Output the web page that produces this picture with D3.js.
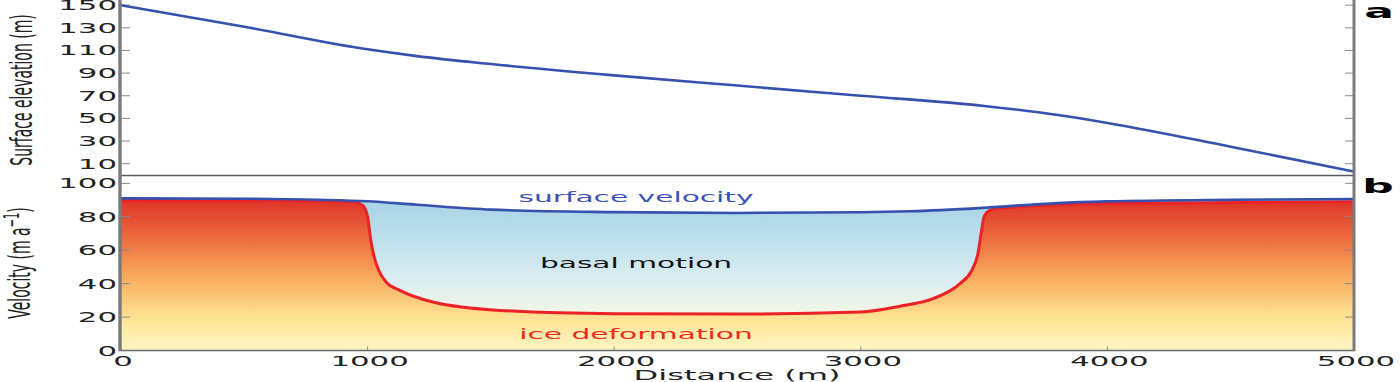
<!DOCTYPE html>
<html>
<head>
<meta charset="utf-8">
<script src="https://cdn.jsdelivr.net/npm/d3@7"></script>
<style>
  body { margin: 0; background: #fff; }
  svg { display: block; font-family: "DejaVu Sans", sans-serif; }
</style>
</head>
<body>
<svg id="chart" width="1400" height="382"></svg>
<script>
"use strict";

// panel a: surface elevation along the flowline
const elevDistance = [0, 500, 1000, 1200, 1500, 2000, 2500, 3000, 3500, 3800, 4000, 4500, 5000];
const elevValue    = [150, 131, 111, 105, 98, 88, 79, 70, 61, 53, 46, 25, 3];

// panel b: surface velocity
const surfDistance = [0, 500, 800, 1000, 1200, 1500, 2000, 2500, 3000, 3200, 3500, 3800, 4000, 4500, 5000];
const surfValue    = [91, 90.8, 90.2, 89.3, 87.2, 84.3, 82.8, 82.3, 82.7, 83.3, 85.4, 88.2, 89.2, 90.2, 90.6];

// panel b: ice deformation part
const defDistance = [0, 500, 900, 950, 980, 1000, 1012, 1025, 1045, 1075, 1131, 1265, 1537, 2000, 2500, 3000, 3159, 3293, 3402, 3450, 3475, 3488, 3500, 3525, 3570, 4000, 5000];
const defValue    = [89.8, 89.6, 89.3, 88.6, 86.8, 80, 67, 57, 48, 41, 36, 29, 24, 22, 21.8, 23, 26.5, 31, 40, 48, 58, 70, 80, 84, 85.3, 88, 89];

const xTicks = [0, 1000, 2000, 3000, 4000, 5000];
const elevTicks = [10, 30, 50, 70, 90, 110, 130, 150];
const velTicks = [0, 20, 40, 60, 80, 100];

const SX = 2.2; // the figure is stretched horizontally

let svg = d3.select('#chart');
let left = 121, right = 1354;

let x = d3.scaleLinear().domain([0, 5000]).range([left, right]);
let yA = d3.scaleLinear().domain([0, 155]).range([175, -0.5]);
let yB = d3.scaleLinear().domain([0, 105]).range([350.5, 175]);

function label(g, px, py, text, size, anchor, colour, weight) {
  return g.append('text')
    .attr('transform', `translate(${px},${py}) scale(${SX},1)`)
    .attr('text-anchor', anchor)
    .attr('font-size', size)
    .attr('font-weight', weight || 'normal')
    .attr('fill', colour)
    .text(text);
}

let defs = svg.append('defs');

// colour ramps follow the velocity value, not the curve
let redGrad = defs.append('linearGradient')
  .attr('id', 'redGrad').attr('gradientUnits', 'userSpaceOnUse')
  .attr('x1', 0).attr('x2', 0).attr('y1', yB(0)).attr('y2', yB(91));
[[0, '#fff6c2'], [0.22, '#fee293'], [0.44, '#f9b466'], [0.66, '#f17f48'], [0.88, '#e44b31'], [1, '#de3228']]
  .forEach(s => redGrad.append('stop').attr('offset', s[0]).attr('stop-color', s[1]));

let blueGrad = defs.append('linearGradient')
  .attr('id', 'blueGrad').attr('gradientUnits', 'userSpaceOnUse')
  .attr('x1', 0).attr('x2', 0).attr('y1', yB(91)).attr('y2', yB(20));
[[0, '#a7d3e5'], [0.4, '#c2e1ec'], [0.7, '#dceef1'], [1, '#f5f7e4']]
  .forEach(s => blueGrad.append('stop').attr('offset', s[0]).attr('stop-color', s[1]));

let surfRows = surfDistance.map((d, i) => [d, surfValue[i]]);
let defRows = defDistance.map((d, i) => [d, defValue[i]]);
let elevRows = elevDistance.map((d, i) => [d, elevValue[i]]);

let areaB = d3.area().curve(d3.curveMonotoneX)
  .x(d => x(d[0])).y0(yB(0)).y1(d => yB(d[1]));
let lineB = d3.line().curve(d3.curveMonotoneX)
  .x(d => x(d[0])).y(d => yB(d[1]));
let lineA = d3.line().curve(d3.curveMonotoneX)
  .x(d => x(d[0])).y(d => yA(d[1]));

/* panel b fills */
svg.append('path').attr('d', areaB(surfRows)).attr('fill', 'url(#blueGrad)');
svg.append('path').attr('d', areaB(defRows)).attr('fill', 'url(#redGrad)');

/* ticks (inward) */
let tickCol = '#8a8a8a';
elevTicks.forEach(t => {
  svg.append('line').attr('x1', left).attr('x2', left + 9).attr('y1', yA(t)).attr('y2', yA(t)).attr('stroke', tickCol);
  svg.append('line').attr('x1', right - 9).attr('x2', right).attr('y1', yA(t)).attr('y2', yA(t)).attr('stroke', tickCol);
});
velTicks.forEach(t => {
  svg.append('line').attr('x1', left).attr('x2', left + 9).attr('y1', yB(t)).attr('y2', yB(t)).attr('stroke', tickCol);
  svg.append('line').attr('x1', right - 9).attr('x2', right).attr('y1', yB(t)).attr('y2', yB(t)).attr('stroke', tickCol);
});
xTicks.forEach(t => {
  svg.append('line').attr('x1', x(t)).attr('x2', x(t)).attr('y1', yB(0)).attr('y2', yB(0) - 4).attr('stroke', tickCol);
});

/* lines */
svg.append('path').attr('d', lineA(elevRows)).attr('fill', 'none').attr('stroke', '#3550ad').attr('stroke-width', 2.6);
svg.append('path').attr('d', lineB(defRows)).attr('fill', 'none').attr('stroke', '#ec2226').attr('stroke-width', 3);
svg.append('path').attr('d', lineB(surfRows)).attr('fill', 'none').attr('stroke', '#3550ad').attr('stroke-width', 2.6);

/* spines */
svg.append('line').attr('x1', left).attr('x2', right).attr('y1', 175.5).attr('y2', 175.5).attr('stroke', '#5a5a5a').attr('stroke-width', 1.3);
svg.append('line').attr('x1', left).attr('x2', right).attr('y1', yB(0)).attr('y2', yB(0)).attr('stroke', '#6a6a6a').attr('stroke-width', 1.6);
svg.append('line').attr('x1', left - 1).attr('x2', left - 1).attr('y1', 0).attr('y2', yB(0) + 0.8).attr('stroke', '#7a7a7a').attr('stroke-width', 3.4);
svg.append('line').attr('x1', right).attr('x2', right).attr('y1', 0).attr('y2', yB(0) + 0.8).attr('stroke', '#7a7a7a').attr('stroke-width', 3);

/* tick labels */
elevTicks.forEach(t => label(svg, 117, yA(t) + 5, t, 14, 'end', '#222'));
velTicks.forEach(t => label(svg, 117, yB(t) + 5, t, 14, 'end', '#222'));
xTicks.forEach(t => label(svg, x(t) + 2, 366, t, 14, 'middle', '#222'));

/* axis titles */
label(svg, 737, 380, 'Distance (m)', 14.6, 'middle', '#222');

svg.append('text')
  .attr('transform', `translate(32,90) scale(${SX},1) rotate(-90)`)
  .attr('text-anchor', 'middle').attr('font-size', 14).attr('fill', '#222')
  .text('Surface elevation (m)');

let vel = svg.append('text')
  .attr('transform', `translate(30,263) scale(${SX},1) rotate(-90)`)
  .attr('text-anchor', 'middle').attr('font-size', 14).attr('fill', '#222');
vel.append('tspan').text('Velocity (m a');
vel.append('tspan').attr('dy', -5).attr('font-size', 10).text('\u22121');
vel.append('tspan').attr('dy', 5).text(')');

/* annotations */
label(svg, 636, 202, 'surface velocity', 13.5, 'middle', '#3a52b8');
label(svg, 636, 268, 'basal motion', 13.5, 'middle', '#111');
label(svg, 636, 339, 'ice deformation', 13.5, 'middle', '#ee2a22');

/* panel letters */
label(svg, 1379, 18, 'a', 20, 'middle', '#000', 'bold');
label(svg, 1378, 193, 'b', 20, 'middle', '#000', 'bold');
</script>
</body>
</html>
